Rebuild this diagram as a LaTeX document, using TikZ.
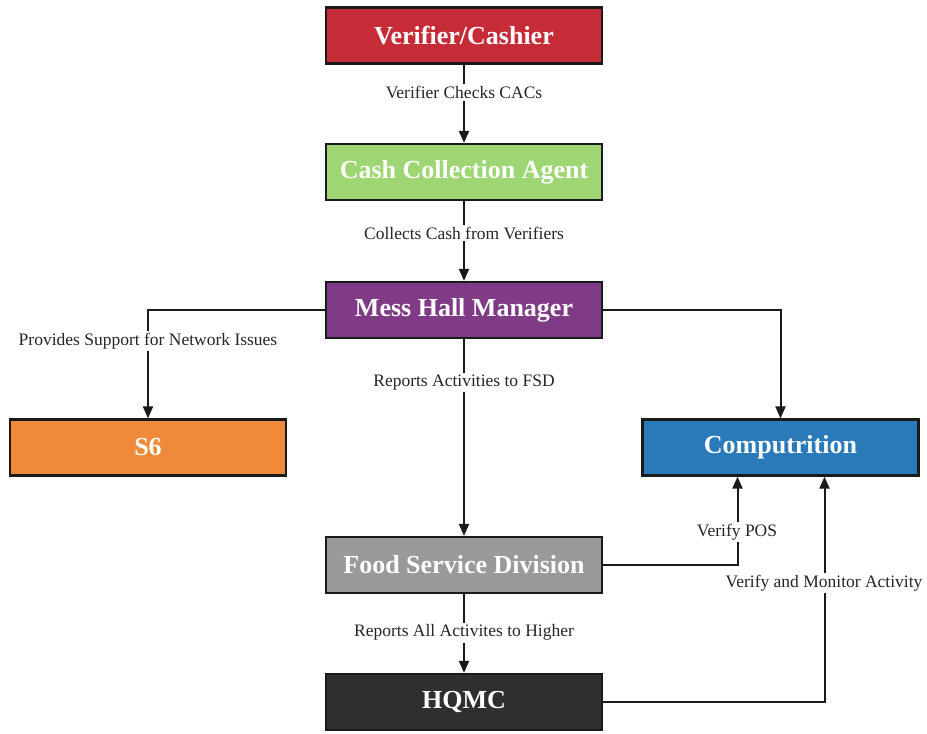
\documentclass[tikz,border=0pt]{standalone}
\usepackage{fontspec}
\setmainfont{Liberation Serif}
\usetikzlibrary{arrows.meta}
\definecolor{cred}{HTML}{C62B38}
\definecolor{cgreen}{HTML}{9FD674}
\definecolor{cpurple}{HTML}{7F3B86}
\definecolor{corange}{HTML}{EE8A39}
\definecolor{cblue}{HTML}{2A79B9}
\definecolor{cgray}{HTML}{999999}
\definecolor{cdark}{HTML}{2F2F2F}
\definecolor{cline}{HTML}{1A1A1A}
\tikzset{
  box/.style={draw=cline, line width=2.2pt, minimum width=276pt, minimum height=56pt, inner sep=0pt,
    text=white, font=\fontsize{26}{30}\selectfont\bfseries},
  lbl/.style={fill=white, inner sep=2pt, text=black!85, font=\fontsize{17.5}{20}\selectfont},
  conn/.style={draw=cline, line width=2pt, -{Triangle[length=12pt,width=10pt]}}
}
\begin{document}
\begin{tikzpicture}[x=1pt,y=-1pt]
\useasboundingbox (0,0) rectangle (927,734);
\node[box, fill=cred] (ver) at (464,35.5) {Verifier/Cashier};
\node[box, fill=cgreen] (cca) at (464,172) {Cash Collection Agent};
\node[box, fill=cpurple] (mhm) at (464,310) {Mess Hall Manager};
\node[box, fill=corange] (s6) at (148,447.5) {S6};
\node[box, fill=cblue] (comp) at (780.5,447.5) {Computrition};
\node[box, fill=cgray] (fsd) at (464,565) {Food Service Division};
\node[box, fill=cdark] (hqmc) at (464,702) {HQMC};

\draw[conn] (ver) -- node[lbl, pos=0.36] {Verifier Checks CACs} (cca);
\draw[conn] (cca) -- node[lbl, pos=0.4] {Collects Cash from Verifiers} (mhm);
\draw[conn] (mhm.west) -| (s6.north);
\node[lbl] (l1) at (148,341) {Provides Support for Network Issues};
\draw[conn] (mhm.east) -| (comp.north);
\draw[conn] (mhm) -- node[lbl, pos=0.22] {Reports Activities to FSD} (fsd);
\draw[conn] (fsd.east) -| ([xshift=-43pt]comp.south);
\node[lbl] (l2) at (737,532) {Verify POS};
\draw[conn] (hqmc.east) -| ([xshift=44pt]comp.south);
\node[lbl] (l3) at (824,583) {Verify and Monitor Activity};
\draw[conn] (fsd) -- node[lbl, pos=0.49] {Reports All Activites to Higher} (hqmc);
\end{tikzpicture}
\end{document}
